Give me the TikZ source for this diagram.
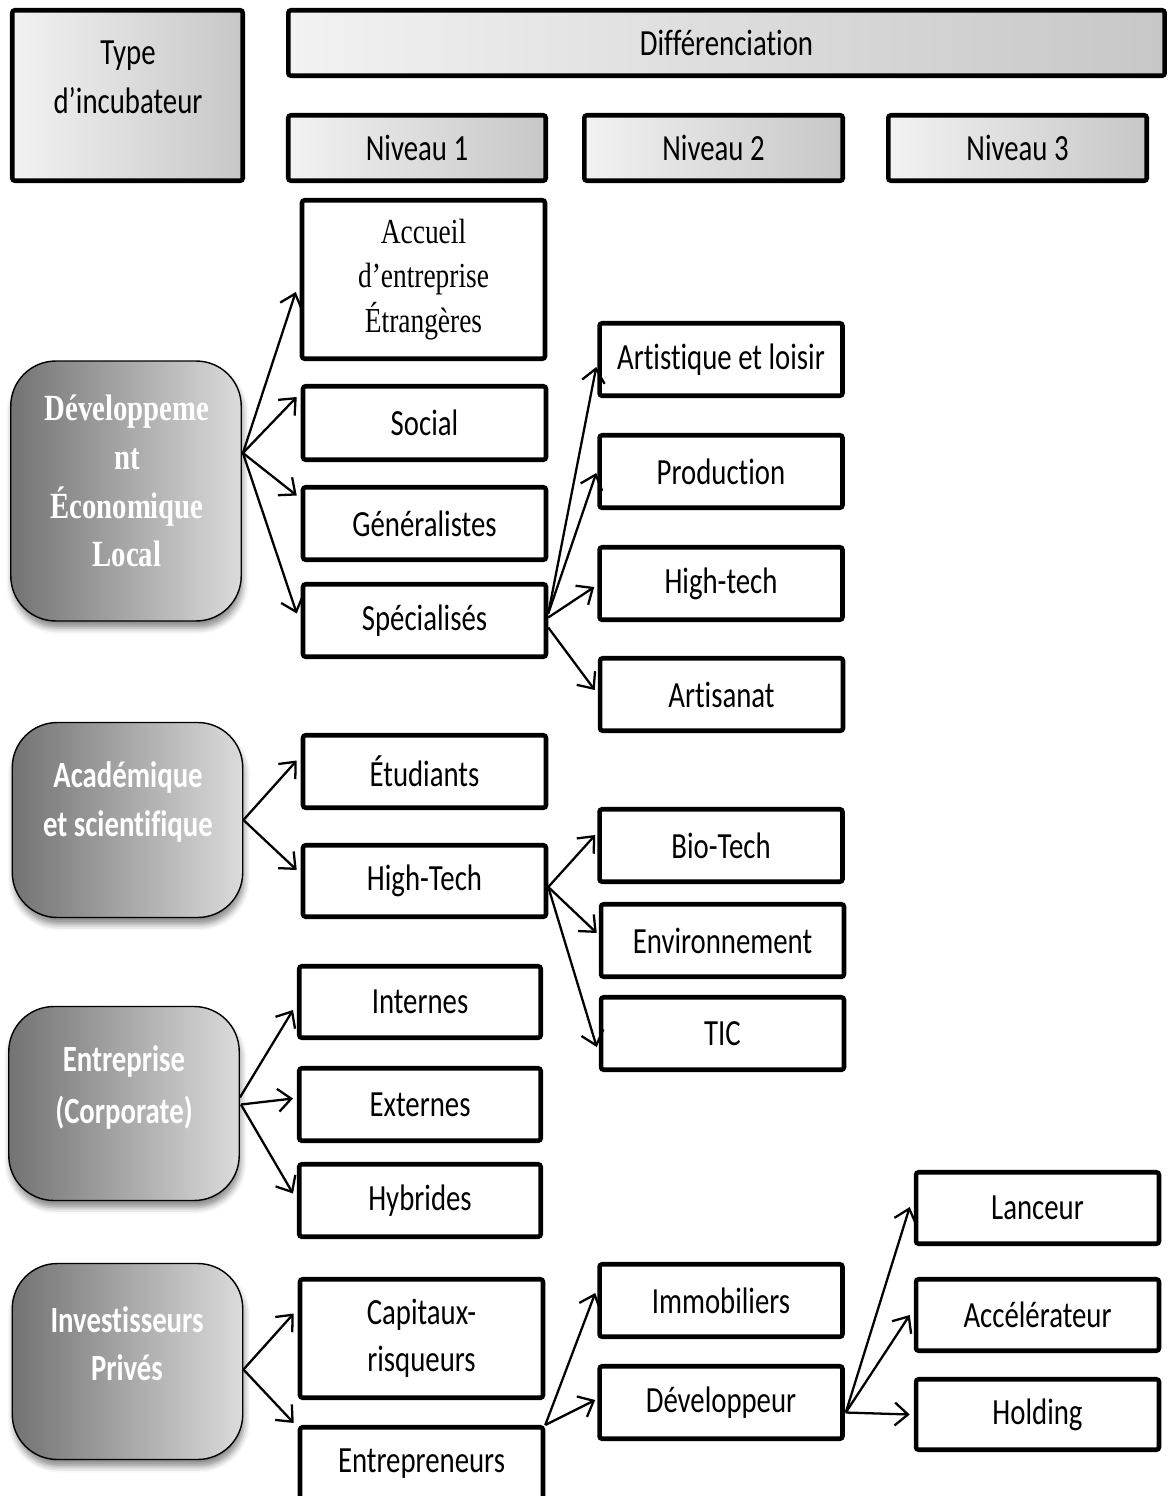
\documentclass[tikz,border=0pt]{standalone}
\usepackage{fontspec}
\setmainfont{Carlito}[FakeStretch=0.78, Ligatures=NoCommon]
\newfontfamily\tmsfont{Liberation Serif}[FakeStretch=0.78, Ligatures=NoCommon]
\usetikzlibrary{arrows.meta,calc,shadows.blur}

\definecolor{hdrlight}{gray}{0.95}
\definecolor{hdrdark}{gray}{0.78}
\definecolor{typdark}{gray}{0.45}
\definecolor{typlight}{gray}{0.86}

\tikzset{
  hdrbox/.style={draw, line width=2.6pt, rounded corners=1.5pt, left color=hdrlight,
    right color=hdrdark, inner sep=0pt, font=\fontsize{21}{28}\selectfont, align=center},
  catbox/.style={draw, fill=white, line width=2.6pt, rounded corners=1.5pt, inner sep=0pt,
    font=\fontsize{21}{27}\selectfont, align=center, minimum width=4.86cm, minimum height=1.45cm},
  typbox/.style={draw, line width=0.8pt, rounded corners=0.9cm, left color=typdark,
    right color=typlight, minimum width=4.61cm,
    blur shadow={shadow xshift=0.03cm, shadow yshift=-0.14cm, shadow opacity=45,
      shadow blur radius=0.12cm}},
  typtxt/.style={text=white, font=\bfseries\fontsize{21}{28}\selectfont, align=center, inner sep=0pt},
  plaintxt/.style={font=\fontsize{21}{28}\selectfont, align=center, inner sep=0pt},
  link/.style={line width=1.3pt, -{Straight Barb[length=7.5pt,width=13pt]}},
}

\begin{document}
\begin{tikzpicture}[x=0.02cm, y=-0.02cm]
\useasboundingbox (0,0) rectangle (1168,1496);
\clip (0,0) rectangle (1168,1496);

% ---- header row ----
\node[hdrbox, minimum width=4.61cm, minimum height=3.41cm] (typ) at (127.5,95.5) {};
\node[plaintxt] (typlbl) at (128,77) {Type\\d’incubateur};
\node[hdrbox, minimum width=17.53cm, minimum height=1.31cm] (diff) at (726.5,43) {Différenciation};
\node[hdrbox, minimum width=5.15cm, minimum height=1.31cm] (n1) at (417,148) {Niveau 1};
\node[hdrbox, minimum width=5.17cm, minimum height=1.31cm] (n2) at (713.5,148) {Niveau 2};
\node[hdrbox, minimum width=5.17cm, minimum height=1.31cm] (n3) at (1017.5,148) {Niveau 3};

% ---- incubator types ----
\node[typbox, minimum height=5.2cm] (dvl) at (126,491) {};
\node[typtxt, font=\tmsfont\bfseries\fontsize{21}{27.8}\selectfont] (dvltxt) at (127,481)
  {Développeme\\nt\\Économique\\Local};
\node[typbox, minimum height=3.9cm] (aca) at (127.5,820) {};
\node[typtxt] (acatxt) at (128,802) {Académique\\et scientifique};
\node[typbox, minimum height=3.88cm] (cor) at (124,1103.5) {};
\node[typtxt, font=\bfseries\fontsize{21}{30}\selectfont] (cortxt) at (124,1087.5) {Entreprise\\(Corporate)};
\node[typbox, minimum height=3.92cm] (inv) at (127.5,1361.5) {};
\node[typtxt, font=\bfseries\fontsize{21}{27}\selectfont] (invtxt) at (127,1343.5) {Investisseurs\\Privés};

% ---- level 1 ----
\node[catbox, minimum height=3.17cm, font=\tmsfont\fontsize{20}{25.5}\selectfont] (acc) at (423.5,279.5)
  {Accueil\\d’entreprise\\Étrangères};
\node[catbox, minimum height=1.47cm] (soc) at (424.5,423) {Social};
\node[catbox] (gen) at (424.5,523.5) {Généralistes};
\node[catbox] (spe) at (424.5,620.5) {Spécialisés};
\node[catbox] (etu) at (424.5,771.5) {Étudiants};
\node[catbox, minimum height=1.43cm] (hte) at (424.5,881) {High-Tech};
\node[catbox, minimum width=4.83cm, minimum height=1.43cm] (int) at (420,1002) {Internes};
\node[catbox, minimum width=4.83cm] (ext) at (420,1104.5) {Externes};
\node[catbox, minimum width=4.83cm] (hyb) at (420,1200.5) {Hybrides};
\node[catbox, minimum height=2.37cm] (cap) at (421.5,1338.5) {Capitaux-\\risqueurs};
\node[catbox] (ent) at (421.5,1463.5) {Entrepreneurs};

% ---- level 2 ----
\node[catbox] (art) at (721,359.5) {Artistique et loisir};
\node[catbox] (pro) at (721,471.5) {Production};
\node[catbox] (hig) at (721,583.5) {High-tech};
\node[catbox] (arn) at (721.5,694.5) {Artisanat};
\node[catbox] (bio) at (721,845.5) {Bio-Tech};
\node[catbox] (env) at (722.5,940.5) {Environnement};
\node[catbox] (tic) at (722.5,1033.5) {TIC};
\node[catbox] (imm) at (721,1300.5) {Immobiliers};
\node[catbox] (dev) at (721,1402.5) {Développeur};

% ---- level 3 ----
\node[catbox, minimum height=1.43cm] (lan) at (1037.5,1208) {Lanceur};
\node[catbox, minimum height=1.43cm] (acl) at (1037.5,1315) {Accélérateur};
\node[catbox, minimum height=1.41cm] (hol) at (1037.5,1414.5) {Holding};

% ---- connectors ----
\draw[link] ($(dvl.east)+(1,-38)$) -- ($(acc.west)+(-4,12.5)$);
\draw[link] ($(dvl.east)+(1,-38)$) -- ($(soc.west)+(-4,-26)$);
\draw[link] ($(dvl.east)+(1,-38)$) -- ($(gen.west)+(-4,-28)$);
\draw[link] ($(dvl.east)+(1,-38)$) -- ($(spe.west)+(-4,-7)$);

\draw[link] ($(spe.east)+(0,-7)$) -- ($(art.west)+(-1,7.5)$);
\draw[link] ($(spe.east)+(0,-7)$) -- ($(pro.west)+(-1,1.5)$);
\draw[link] ($(spe.east)+(0,-3)$) -- ($(hig.west)+(-3,3.5)$);
\draw[link] ($(spe.east)+(0,7)$) -- ($(arn.west)+(-3,-4.5)$);

\draw[link] (aca.east) -- ($(etu.west)+(-4,-11)$);
\draw[link] (aca.east) -- ($(hte.west)+(-4,-11)$);

\draw[link] ($(hte.east)+(0,6)$) -- ($(bio.west)+(-2,-10.5)$);
\draw[link] ($(hte.east)+(0,6)$) -- ($(env.west)+(-2,-7.5)$);
\draw[link] ($(hte.east)+(0,6)$) -- ($(tic.west)+(-2,13.5)$);

\draw[link] ($(cor.east)+(0,-6)$) -- ($(int.west)+(-4,8)$);
\draw[link] ($(cor.east)+(1,1)$) -- ($(ext.west)+(-4,-6)$);
\draw[link] ($(cor.east)+(1,1)$) -- ($(hyb.west)+(-4,-7)$);

\draw[link] ($(inv.east)+(0,8)$) -- ($(cap.west)+(-4,-25)$);
\draw[link] ($(inv.east)+(0,8)$) -- ($(ent.north west)+(-4,-2)$);

\draw[link] (ent.north east) -- ($(imm.west)+(-2,-7.5)$);
\draw[link] (ent.north east) -- ($(dev.west)+(-2,-2.5)$);

\draw[link] ($(dev.east)+(1,10)$) -- ($(lan.west)+(-4,-1)$);
\draw[link] ($(dev.east)+(1,10)$) -- ($(acl.west)+(-4,0)$);
\draw[link] ($(dev.east)+(1,10)$) -- ($(hol.west)+(-4,0)$);
\end{tikzpicture}
\end{document}
